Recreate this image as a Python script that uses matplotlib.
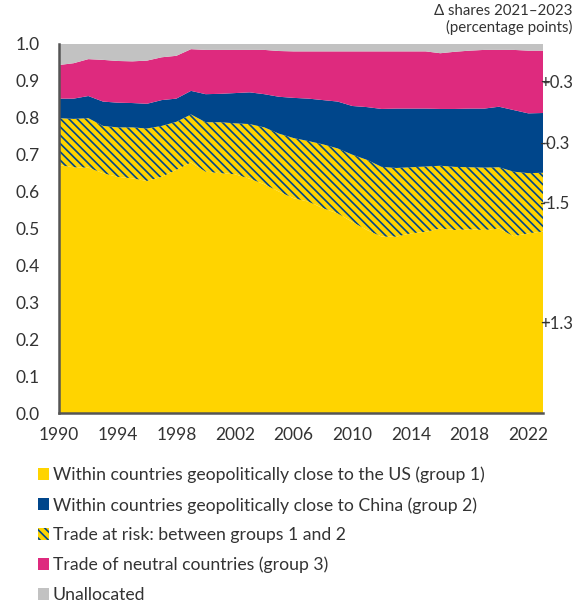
import matplotlib
matplotlib.use('Agg')
import matplotlib.pyplot as plt
import numpy as np

plt.rcParams['font.family'] = ['Lato', 'DejaVu Sans']
plt.rcParams['hatch.linewidth'] = 1.2
plt.rcParams['hatch.color'] = '#00468B'

years = list(range(1990, 2024))

# shares of world trade by group
close_us = [0.672, 0.666, 0.665, 0.650, 0.640, 0.636, 0.629, 0.640, 0.659, 0.679,
            0.654, 0.650, 0.647, 0.635, 0.620, 0.600, 0.582, 0.573, 0.555, 0.541,
            0.518, 0.496, 0.478, 0.478, 0.487, 0.491, 0.500, 0.496, 0.498, 0.496,
            0.500, 0.479, 0.487, 0.492]
at_risk = [0.127, 0.131, 0.134, 0.128, 0.134, 0.138, 0.142, 0.138, 0.130, 0.130,
           0.134, 0.138, 0.138, 0.148, 0.154, 0.157, 0.163, 0.164, 0.173, 0.176,
           0.182, 0.190, 0.189, 0.186, 0.179, 0.177, 0.170, 0.171, 0.168, 0.169,
           0.166, 0.175, 0.163, 0.159]
close_china = [0.053, 0.055, 0.060, 0.066, 0.067, 0.066, 0.067, 0.070, 0.063, 0.064,
               0.076, 0.077, 0.082, 0.086, 0.090, 0.100, 0.109, 0.115, 0.120, 0.127,
               0.132, 0.143, 0.157, 0.161, 0.159, 0.157, 0.154, 0.157, 0.159, 0.160,
               0.164, 0.167, 0.162, 0.162]
neutral = [0.091, 0.096, 0.100, 0.113, 0.113, 0.113, 0.117, 0.116, 0.116, 0.113,
           0.120, 0.119, 0.117, 0.115, 0.120, 0.124, 0.126, 0.128, 0.132, 0.136,
           0.148, 0.151, 0.156, 0.155, 0.155, 0.155, 0.151, 0.155, 0.157, 0.159,
           0.154, 0.163, 0.170, 0.169]
unallocated = [0.057, 0.052, 0.041, 0.043, 0.046, 0.047, 0.045, 0.036, 0.032, 0.014,
               0.016, 0.016, 0.016, 0.016, 0.016, 0.019, 0.020, 0.020, 0.020, 0.020,
               0.020, 0.020, 0.020, 0.020, 0.020, 0.020, 0.025, 0.021, 0.018, 0.016,
               0.016, 0.016, 0.018, 0.018]

delta_labels = ['+1.3', '-1.5', '-0.3', '+0.3']  # bottom to top, first four layers

labels = [
    'Within countries geopolitically close to the US (group 1)',
    'Trade at risk: between groups 1 and 2',
    'Within countries geopolitically close to China (group 2)',
    'Trade of neutral countries (group 3)',
    'Unallocated',
]

yellow = '#FFD400'
navy = '#00468B'
pink = '#DE2A7E'
grey = '#C2C2C2'
text_col = '#333333'
hatch = '\\\\\\\\'

fig = plt.figure(figsize=(5.74, 6.03), dpi=100)
ax = fig.add_axes([59 / 574, 1 - 413 / 603, 484 / 574, 369 / 603])

layers = [close_us, at_risk, close_china, neutral, unallocated]
colors = [yellow, yellow, navy, pink, grey]
hatches = [None, hatch, None, None, None]

base = np.zeros(len(years))
mids = []
polys = []
for vals, c, h in zip(layers, colors, hatches):
    top = base + np.array(vals)
    p = ax.fill_between(years, base, top, facecolor=c, edgecolor='none', hatch=h, lw=0)
    polys.append(p)
    mids.append((base[-1] + top[-1]) / 2)
    base = top

ax.set_xlim(1990, 2023)
ax.set_ylim(0, 1.0)
ax.set_xticks(range(1990, 2023, 4))
ax.set_yticks(np.arange(0, 1.01, 0.1))
ax.set_yticklabels([f'{v:.1f}' for v in np.arange(0, 1.01, 0.1)])
ax.tick_params(axis='both', length=0, labelsize=12.5, colors=text_col)
ax.tick_params(axis='y', pad=14)
ax.tick_params(axis='x', pad=10)
for s in ['top', 'right']:
    ax.spines[s].set_visible(False)
for s in ['left', 'bottom']:
    ax.spines[s].set_color('#555555')
    ax.spines[s].set_linewidth(1.8)

# right-hand deltas
ax2 = ax.twinx()
ax2.set_ylim(0, 1.0)
ax2.set_yticks(mids[:4])
ax2.set_yticklabels(delta_labels)
ax2.tick_params(axis='y', length=4, width=1, color='#555555', labelsize=12,
                colors=text_col, pad=-6)
for s in ax2.spines.values():
    s.set_visible(False)

fig.text(0.998, 0.994, 'Δ shares 2021–2023\n(percentage points)', ha='right', va='top',
         fontsize=10.8, color=text_col, linespacing=1.2)

# legend order differs from stacking order
order = [0, 2, 1, 3, 4]
fig.legend([polys[i] for i in order], [labels[i] for i in order], loc='upper left',
           bbox_to_anchor=(22 / 574, 1 - 451 / 603),
           frameon=False, fontsize=12.7, handlelength=0.65, handleheight=0.65,
           handletextpad=0.2, labelspacing=0.77, labelcolor=text_col)

fig.savefig('out.png', dpi=100)
